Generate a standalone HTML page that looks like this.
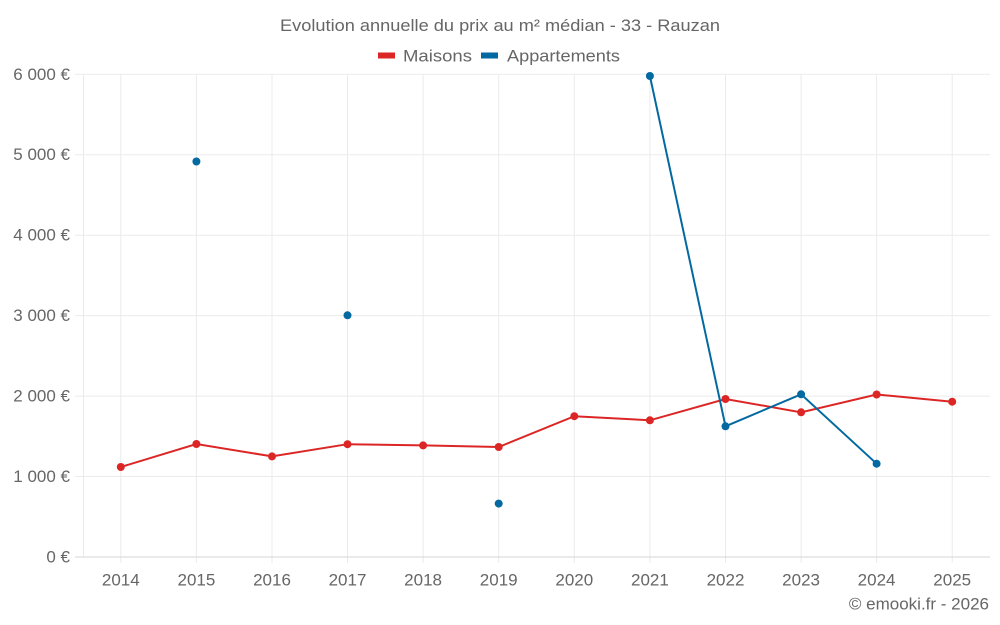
<!DOCTYPE html>
<html><head><meta charset="utf-8"><style>
html,body{margin:0;padding:0;background:#fff;}
svg{display:block;font-family:"Liberation Sans",sans-serif;}
</style></head><body>
<svg width="1000" height="625" viewBox="0 0 1000 625" xmlns="http://www.w3.org/2000/svg">
<rect width="1000" height="625" fill="#fff"/>
<!-- horizontal grid -->
<g stroke="#ebebeb" stroke-width="1">
<line x1="75" y1="476.5" x2="990" y2="476.5"/>
<line x1="75" y1="396.1" x2="990" y2="396.1"/>
<line x1="75" y1="315.6" x2="990" y2="315.6"/>
<line x1="75" y1="235.2" x2="990" y2="235.2"/>
<line x1="75" y1="154.7" x2="990" y2="154.7"/>
<line x1="75" y1="74.3" x2="990" y2="74.3"/>
<line x1="83.5" y1="74" x2="83.5" y2="557"/>
<line x1="120.8" y1="74" x2="120.8" y2="563"/>
<line x1="196.4" y1="74" x2="196.4" y2="563"/>
<line x1="272.0" y1="74" x2="272.0" y2="563"/>
<line x1="347.5" y1="74" x2="347.5" y2="563"/>
<line x1="423.1" y1="74" x2="423.1" y2="563"/>
<line x1="498.7" y1="74" x2="498.7" y2="563"/>
<line x1="574.3" y1="74" x2="574.3" y2="563"/>
<line x1="649.9" y1="74" x2="649.9" y2="563"/>
<line x1="725.5" y1="74" x2="725.5" y2="563"/>
<line x1="801.1" y1="74" x2="801.1" y2="563"/>
<line x1="876.6" y1="74" x2="876.6" y2="563"/>
<line x1="952.2" y1="74" x2="952.2" y2="563"/>
</g>
<line x1="75" y1="557" x2="990" y2="557" stroke="#d6d6d6" stroke-width="1"/>
<!-- y labels -->
<g fill="#666" font-size="17" text-anchor="end">
<text x="70" y="562.5">0 €</text>
<text x="70" y="482">1 000 €</text>
<text x="70" y="401.6">2 000 €</text>
<text x="70" y="321.1">3 000 €</text>
<text x="70" y="240.7">4 000 €</text>
<text x="70" y="160.2">5 000 €</text>
<text x="70" y="79.8">6 000 €</text>
</g>
<!-- x labels -->
<g fill="#666" font-size="17" text-anchor="middle">
<text x="120.8" y="585.5">2014</text>
<text x="196.4" y="585.5">2015</text>
<text x="272.0" y="585.5">2016</text>
<text x="347.5" y="585.5">2017</text>
<text x="423.1" y="585.5">2018</text>
<text x="498.7" y="585.5">2019</text>
<text x="574.3" y="585.5">2020</text>
<text x="649.9" y="585.5">2021</text>
<text x="725.5" y="585.5">2022</text>
<text x="801.1" y="585.5">2023</text>
<text x="876.6" y="585.5">2024</text>
<text x="952.2" y="585.5">2025</text>
</g>
<text x="989" y="609.5" fill="#666" font-size="17" text-anchor="end">© emooki.fr - 2026</text>
<!-- title -->
<text x="500" y="31" fill="#666" font-size="17" text-anchor="middle" textLength="440" lengthAdjust="spacingAndGlyphs">Evolution annuelle du prix au m² médian - 33 - Rauzan</text>
<!-- legend -->
<rect x="378" y="52.5" width="17" height="6" fill="#dc2626"/>
<text x="403" y="61.5" fill="#666" font-size="17" textLength="69" lengthAdjust="spacingAndGlyphs">Maisons</text>
<rect x="481" y="52.5" width="17" height="6" fill="#0369a1"/>
<text x="507" y="61.5" fill="#666" font-size="17" textLength="113" lengthAdjust="spacingAndGlyphs">Appartements</text>
<!-- Maisons -->
<polyline fill="none" stroke="#dc2626" stroke-width="2" points="120.8,467 196.4,444 272.0,456.4 347.5,444.2 423.1,445.4 498.7,447 574.3,416.2 649.9,420.3 725.5,399 801.1,412.3 876.6,394.5 952.2,401.7"/>
<g fill="#dc2626">
<circle cx="120.8" cy="467" r="4"/>
<circle cx="196.4" cy="444" r="4"/>
<circle cx="272.0" cy="456.4" r="4"/>
<circle cx="347.5" cy="444.2" r="4"/>
<circle cx="423.1" cy="445.4" r="4"/>
<circle cx="498.7" cy="447" r="4"/>
<circle cx="574.3" cy="416.2" r="4"/>
<circle cx="649.9" cy="420.3" r="4"/>
<circle cx="725.5" cy="399" r="4"/>
<circle cx="801.1" cy="412.3" r="4"/>
<circle cx="876.6" cy="394.5" r="4"/>
<circle cx="952.2" cy="401.7" r="4"/>
</g>
<!-- Appartements -->
<polyline fill="none" stroke="#0369a1" stroke-width="2" points="649.9,76 725.5,426.3 801.1,394.3 876.6,463.7"/>
<g fill="#0369a1">
<circle cx="196.4" cy="161.5" r="4"/>
<circle cx="347.5" cy="315.3" r="4"/>
<circle cx="498.7" cy="503.6" r="4"/>
<circle cx="649.9" cy="76" r="4"/>
<circle cx="725.5" cy="426.3" r="4"/>
<circle cx="801.1" cy="394.3" r="4"/>
<circle cx="876.6" cy="463.7" r="4"/>
</g>
</svg>
</body></html>
